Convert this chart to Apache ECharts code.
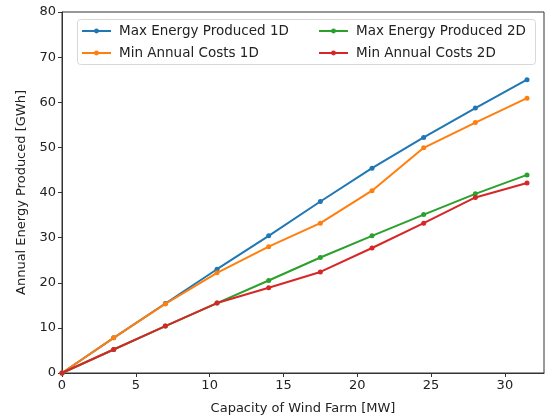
<!DOCTYPE html>
<html><head><meta charset="utf-8">
<script src="https://cdn.jsdelivr.net/npm/echarts@6/dist/echarts.min.js"></script>
<style>html,body{margin:0;padding:0;background:#fff}#c{width:545px;height:420px}</style>
</head><body><div id="c"></div>
<script>
const capacity = [0, 3.5, 7, 10.5, 14, 17.5, 21, 24.5, 28, 31.5];
const maxEnergy1D = [0, 7.8, 15.4, 23.0, 30.4, 38.0, 45.4, 52.2, 58.7, 65.0];
const minCosts1D = [0, 7.8, 15.3, 22.2, 28.0, 33.2, 40.4, 49.9, 55.5, 60.9];
const maxEnergy2D = [0, 5.2, 10.4, 15.5, 20.5, 25.6, 30.4, 35.1, 39.7, 43.9];
const minCosts2D = [0, 5.2, 10.4, 15.5, 18.9, 22.4, 27.7, 33.2, 38.9, 42.1];
const names = ['Max Energy Produced 1D', 'Min Annual Costs 1D', 'Max Energy Produced 2D', 'Min Annual Costs 2D'];
const colors = ['#1f77b4', '#ff7f0e', '#2ca02c', '#d62728'];
const values = [maxEnergy1D, minCosts1D, maxEnergy2D, minCosts2D];

const font = 'DejaVu Sans';
const chart = echarts.init(document.getElementById('c'), null, {renderer: 'canvas'});
const series = names.map((n, i) => ({
  name: n, type: 'line',
  data: capacity.map((x, j) => [x, values[i][j]]),
  symbol: 'circle', symbolSize: 5, showSymbol: true,
  lineStyle: {width: 2, color: colors[i]},
  itemStyle: {color: colors[i]},
  color: colors[i],
  animation: false, z: 2 + i
}));
const legendCommon = {
  orient: 'vertical', itemWidth: 29, itemHeight: 6, itemGap: 8,
  textStyle: {fontFamily: font, fontSize: 13.5, color: '#222', padding: [0, 0, 0, 3]},
  top: 24, padding: 0
};
chart.setOption({
  animation: false,
  color: colors,
  grid: {left: 62, top: 12, right: 1, bottom: 45, show: true, borderColor: '#333', borderWidth: 1, backgroundColor: 'transparent'},
  xAxis: {
    type: 'value', min: 0, max: 32.65, interval: 5,
    name: 'Capacity of Wind Farm [MW]', nameLocation: 'middle', nameGap: 29,
    nameTextStyle: {fontFamily: font, fontSize: 13, color: '#222'},
    axisLine: {show: true, lineStyle: {color: '#333', width: 1}},
    axisTick: {show: true, length: 4, lineStyle: {color: '#333'}},
    axisLabel: {fontFamily: font, fontSize: 13, color: '#222', margin: 6, showMaxLabel: false},
    splitLine: {show: false}
  },
  yAxis: {
    type: 'value', min: 0, max: 80, interval: 10,
    name: 'Annual Energy Produced [GWh]', nameLocation: 'middle', nameGap: 34,
    nameTextStyle: {fontFamily: font, fontSize: 13, color: '#222'},
    axisLine: {show: true, lineStyle: {color: '#333', width: 1}},
    axisTick: {show: true, length: 4, lineStyle: {color: '#333'}},
    axisLabel: {fontFamily: font, fontSize: 13, color: '#222', margin: 6},
    splitLine: {show: false}
  },
  legend: [
    Object.assign({}, legendCommon, {left: 81, data: [names[0], names[1]]}),
    Object.assign({}, legendCommon, {left: 318, data: [names[2], names[3]]})
  ],
  graphic: [{
    type: 'rect', left: 77, top: 19, z: 0,
    shape: {width: 458, height: 45, r: 3},
    style: {fill: 'rgba(255,255,255,0.8)', stroke: '#d8d8d8', lineWidth: 1}
  }],
  series: series
});
</script></body></html>
